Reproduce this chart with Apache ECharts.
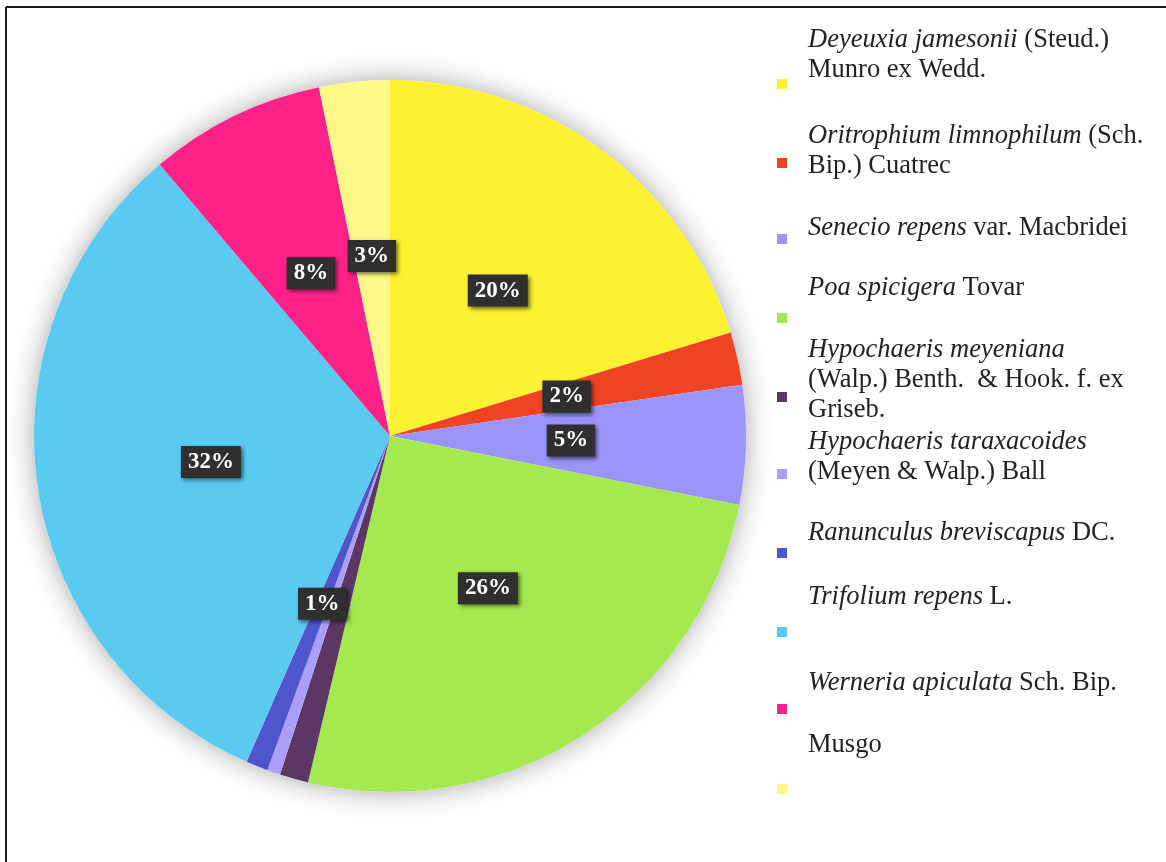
<!DOCTYPE html>
<html>
<head>
<meta charset="utf-8">
<script src="https://cdn.jsdelivr.net/npm/echarts@6/dist/echarts.min.js"></script>
<style>
  html, body { margin: 0; padding: 0; background: #fff; }
  #chart { width: 1166px; height: 862px; }
</style>
</head>
<body>
<div id="chart"></div>
<script>
// Species cover (%) in clockwise order from 12 o'clock
const speciesNames = [
  'Deyeuxia jamesonii (Steud.) Munro ex Wedd.',
  'Oritrophium limnophilum (Sch. Bip.) Cuatrec',
  'Senecio repens var. Macbridei',
  'Poa spicigera Tovar',
  'Hypochaeris meyeniana (Walp.) Benth. & Hook. f. ex Griseb.',
  'Hypochaeris taraxacoides (Meyen & Walp.) Ball',
  'Ranunculus breviscapus DC.',
  'Trifolium repens L.',
  'Werneria apiculata Sch. Bip.',
  'Musgo'
];
const coverPercent = [20.3, 2.4, 5.4, 25.6, 1.3, 0.6, 1.0, 32.2, 8.0, 3.2];

// Legend text, wrapped, with the scientific names in italics
const legendLabels = [
  '{i|Deyeuxia jamesonii} (Steud.)\nMunro ex Wedd.',
  '{i|Oritrophium limnophilum} (Sch.\nBip.) Cuatrec',
  '{i|Senecio repens} var. Macbridei',
  '{i|Poa spicigera} Tovar',
  '{i|Hypochaeris meyeniana}\n(Walp.) Benth.  & Hook. f. ex\nGriseb.',
  '{i|Hypochaeris taraxacoides}\n(Meyen & Walp.) Ball',
  '{i|Ranunculus breviscapus} DC.',
  '{i|Trifolium repens} L.',
  '{i|Werneria apiculata} Sch. Bip.',
  'Musgo'
];

const sliceColors = [
  '#fdf232', '#ee4424', '#9b94fb', '#a6e84f', '#5c3766',
  '#ab9ffa', '#4f55cc', '#5bcaf1', '#fd2188', '#fdf888'
];

// Legend layout: vertical centre of each marker and of each entry's first text line
const legendMarkerY = [84, 163, 239, 318, 397, 474, 553, 632, 709, 789];
const legendFirstLineY = [40, 136, 228, 288, 350, 442, 533, 597, 683, 745];

const SERIF = '"Liberation Serif", "Times New Roman", "DejaVu Serif", serif';
const LINE_H = 30;
const LEGEND_FONT = 26.5;
const PIE_CENTER = [390, 436];
const PIE_R = 356;

const legends = speciesNames.map((name, i) => {
  const label = legendLabels[i];
  const nLines = label.split('\n').length;
  const padBottom = Math.max(0, 2 * (legendMarkerY[i] - legendFirstLineY[i] - (nLines - 1) * LINE_H / 2));
  const boxH = nLines * LINE_H + padBottom;
  return {
    left: 777,
    top: Math.round(legendMarkerY[i] - boxH / 2),
    orient: 'vertical',
    padding: 0,
    icon: 'rect',
    itemWidth: 10,
    itemHeight: 10,
    selectedMode: false,
    data: [name],
    formatter: () => label,
    textStyle: {
      fontFamily: SERIF,
      fontSize: LEGEND_FONT,
      color: '#222222',
      lineHeight: LINE_H,
      padding: [0, 0, padBottom, 16],
      rich: {
        i: { fontFamily: SERIF, fontSize: LEGEND_FONT, fontStyle: 'italic', color: '#222222', lineHeight: LINE_H }
      }
    }
  };
});

const chart = echarts.init(document.getElementById('chart'), null, { renderer: 'canvas' });
chart.setOption({
  animation: false,
  backgroundColor: '#ffffff',
  color: sliceColors,
  legend: legends,
  graphic: [
    { type: 'line', shape: { x1: 6, y1: 7, x2: 1166, y2: 7 }, style: { stroke: '#1a1a1a', lineWidth: 2 }, z: 100 },
    { type: 'line', shape: { x1: 6, y1: 7, x2: 6, y2: 862 }, style: { stroke: '#1a1a1a', lineWidth: 2 }, z: 100 }
  ],
  series: [
    {
      // soft shadow disc behind the slices
      type: 'pie',
      silent: true,
      z: 1,
      center: PIE_CENTER,
      radius: PIE_R,
      label: { show: false },
      labelLine: { show: false },
      itemStyle: { color: '#ffffff', shadowBlur: 28, shadowColor: 'rgba(0,0,0,0.35)' },
      data: [{ value: 1, name: '' }]
    },
    {
      type: 'pie',
      z: 2,
      center: PIE_CENTER,
      radius: PIE_R,
      startAngle: 90,
      clockwise: true,
      avoidLabelOverlap: false,
      itemStyle: { borderWidth: 0 },
      label: {
        show: true,
        position: 'inside',
        formatter: p => Math.round(p.percent) + '%',
        fontFamily: SERIF,
        fontWeight: 'bold',
        fontSize: 23,
        color: '#ffffff',
        backgroundColor: '#2f2f2f',
        padding: [5, 7, 4, 7],
        shadowBlur: 4,
        shadowOffsetX: 2,
        shadowOffsetY: 2,
        shadowColor: 'rgba(0,0,0,0.55)'
      },
      labelLine: { show: false },
      emphasis: { scale: false },
      data: speciesNames.map((name, i) => ({ name, value: coverPercent[i] }))
    }
  ]
});
</script>
</body>
</html>
